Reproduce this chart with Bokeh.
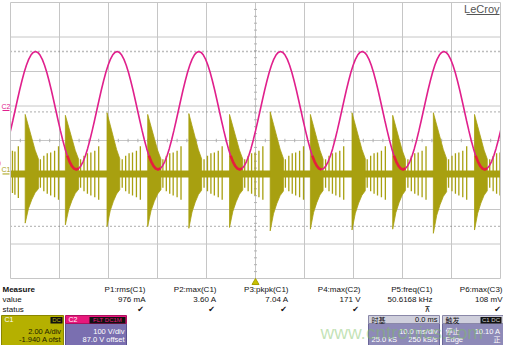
import numpy as np
from bokeh.plotting import figure
from bokeh.models import Range1d
from bokeh.core.properties import value
from bokeh.embed import file_html
from bokeh.resources import INLINE

# ---------------- data ----------------
grid_x_ms = [0, 10, 20, 30, 40, 50, 60, 70, 80, 90, 100]
grid_y_div = [-4, -3, -2, -1, 0, 1, 2, 3, 4]
minor_per_div = 5

c1_scale_A = 2.00
c1_offset_A = -1.940
c2_scale_V = 100.0
c2_offset_V = 87.0

# C2 (mains voltage): one cycle sampled every 10 degrees from the rising zero crossing
c2_cycle_V = [0.0, 29.7, 58.5, 85.5, 109.9, 131.0, 148.1, 160.7, 168.4, 171.0,
              168.4, 160.7, 148.1, 131.0, 109.9, 85.5, 58.5, 29.7, 0.0, -29.7,
              -58.5, -85.5, -109.9, -131.0, -148.1, -160.7, -168.4, -171.0, -168.4,
              -160.7, -148.1, -131.0, -109.9, -85.5, -58.5, -29.7]
c2_period_ms = 16.67
c2_first_zero_ms = 0.93

# C1 (current): switching bursts
burst_start_ms = [3.0, 11.2, 19.7, 28.0, 36.4, 44.7, 53.0, 61.2, 69.7, 78.0, 86.3, 94.7]
burst_length_ms = [2.7, 2.7, 2.6, 2.7, 2.6, 2.7, 2.7, 2.6, 2.7, 2.6, 2.7, 2.6]
burst_high_A = [3.45, 3.40, 3.55, 3.45, 3.50, 3.45, 3.60, 3.45, 3.55, 3.40, 3.55, 3.45]
burst_low_A = [-2.85, -2.95, -3.05, -3.05, -3.15, -3.10, -3.30, -3.20, -3.25, -3.20, -3.44, -3.25]
env_t_frac = [0.0, 0.25, 0.5, 0.75, 1.0]
env_high_frac = [1.0, 0.80, 0.60, 0.40, 0.25]
env_low_frac = [1.0, 0.70, 0.52, 0.38, 0.30]

spike_offset_ms = [3.1, 3.8, 4.5, 5.2, 6.0, 6.8]
spike_high_A = [0.85, 1.05, 1.20, 1.25, 1.35, 1.60]
spike_low_A = [-0.80, -1.00, -1.15, -1.25, -1.35, -1.50]
lead_spike_ms = [0.4, 0.9, 1.6]
lead_spike_high_A = [1.35, 1.30, 1.60]
lead_spike_low_A = [-1.10, -1.20, -1.40]
band_A = 0.2

level_c2_V = [171.0]
level_c1_A = [3.60, -3.04]
trigger_ms = 50.0

meas_names = ["P1:rms(C1)", "P2:max(C1)", "P3:pkpk(C1)", "P4:max(C2)", "P5:freq(C1)", "P6:max(C3)"]
meas_values = ["976 mA", "3.60 A", "7.04 A", "171 V", "50.6168 kHz", "108 mV"]
meas_status = ["\u2714", "\u2714", "\u2714", "\u2714", "\u22bc", "\u2714"]

# ---------------- helpers ----------------
def c1_div(a):
    return (a + c1_offset_A) / c1_scale_A

def c2_div(v):
    return (v + c2_offset_V) / c2_scale_V

def X(px):  # page pixel -> ms
    return (px - 18) / 4.9

def Y(py):  # page pixel -> div
    return (148 - py) / 34.5

OLIVE = "#a8a010"
MAGENTA = "#e0208c"
GRID = "#c6c6c6"
SANS = "Liberation Sans"
CJK = "Noto Sans CJK SC"

p = figure(width=503, height=345, output_backend="svg", toolbar_location=None,
           x_range=Range1d(X(8), X(511)), y_range=Range1d(Y(353), Y(8)),
           x_axis_location=None, y_axis_location=None, title=None, min_border=0)
p.xgrid.visible = False
p.ygrid.visible = False
p.outline_line_color = None
p.background_fill_color = "white"
p.border_fill_color = "white"

# inner grid
xmin, xmax = grid_x_ms[0], grid_x_ms[-1]
ymin, ymax = grid_y_div[0], grid_y_div[-1]
inner_x = grid_x_ms[1:-1]
inner_y = grid_y_div[1:-1]
p.segment(x0=inner_x, x1=inner_x, y0=[ymin] * len(inner_x), y1=[ymax] * len(inner_x),
          line_color=GRID, line_width=1)
p.segment(x0=[xmin] * len(inner_y), x1=[xmax] * len(inner_y), y0=inner_y, y1=inner_y,
          line_color=GRID, line_width=1)

# minor ticks on centre cross
dx = (grid_x_ms[1] - grid_x_ms[0]) / minor_per_div
tx = [xmin + i * dx for i in range(int(round((xmax - xmin) / dx)) + 1)]
p.segment(x0=tx, x1=tx, y0=[-0.05] * len(tx), y1=[0.05] * len(tx), line_color="#b0b0b0", line_width=1)
dy = 1.0 / minor_per_div
ty = [ymin + i * dy for i in range(int(round((ymax - ymin) / dy)) + 1)]
xc = (xmin + xmax) / 2
p.segment(x0=[xc - 0.3] * len(ty), x1=[xc + 0.3] * len(ty), y0=ty, y1=ty, line_color="#b0b0b0", line_width=1)

# dotted level lines
levels = [c2_div(v) for v in level_c2_V] + [c1_div(a) for a in level_c1_A]
p.segment(x0=[xmin] * len(levels), x1=[xmax] * len(levels), y0=levels, y1=levels,
          line_color="#7a7a7a", line_width=1.4, line_dash="1 3")

# C1 trace: baseline band
p.quad(left=[xmin], right=[xmax], bottom=[c1_div(-band_A)], top=[c1_div(band_A)],
       fill_color=OLIVE, line_color=None)

# C1 bursts
bx, by = [], []
for s, L, hi, lo in zip(burst_start_ms, burst_length_ms, burst_high_A, burst_low_A):
    xs_top = [s + f * L for f in env_t_frac]
    ys_top = [c1_div(hi * f) for f in env_high_frac]
    ys_bot = [c1_div(lo * f) for f in env_low_frac]
    bx.append(xs_top + xs_top[::-1])
    by.append(ys_top + ys_bot[::-1])
p.patches(xs=bx, ys=by, fill_color=OLIVE, line_color=OLIVE, line_width=0.8)

# C1 spikes
st, sh, sl = list(lead_spike_ms), list(lead_spike_high_A), list(lead_spike_low_A)
for s in burst_start_ms:
    for o, h, l in zip(spike_offset_ms, spike_high_A, spike_low_A):
        st.append(s + o)
        sh.append(h)
        sl.append(l)
p.segment(x0=st, x1=st, y0=[c1_div(v) for v in sl], y1=[c1_div(v) for v in sh],
          line_color=OLIVE, line_width=1.3)

# C2 trace
c2_t, c2_v = [], []
n = len(c2_cycle_V)
for cyc in range(-1, 7):
    for k, v in enumerate(c2_cycle_V):
        c2_t.append(c2_first_zero_ms + (cyc + k / n) * c2_period_ms)
        c2_v.append(v)
c2_y = [c2_div(v) for v in c2_v]
p.line(c2_t, c2_y, line_color=MAGENTA, line_width=1.6)
red_y = []
for t, v in zip(c2_t, c2_v):
    inb = any(s <= t <= s + L for s, L in zip(burst_start_ms, burst_length_ms))
    red_y.append(c2_div(v) if (inb and v < 0) else np.nan)
p.line(c2_t, red_y, line_color="#e6203c", line_width=2.6)

# mask traces outside the graticule
p.quad(left=[X(8), xmax], right=[xmin, X(511)], bottom=[Y(353)] * 2, top=[Y(8)] * 2,
       fill_color="white", line_color=None)

# graticule border
p.segment(x0=[xmin, xmax, xmin, xmin], x1=[xmin, xmax, xmax, xmax],
          y0=[ymin, ymin, ymin, ymax], y1=[ymax, ymax, ymin, ymax],
          line_color=GRID, line_width=1)


def txt(px, py, s, size="8px", color="#111111", align="left", font=SANS, style="normal", alpha=1.0):
    p.text(x=[X(px)], y=[Y(py)], text=[s], text_font=value(font), text_font_size=size,
           text_color=color, text_align=align, text_baseline="middle",
           text_font_style=style, text_alpha=alpha)


def box(l, r, t, b, fill, line=None):
    p.quad(left=[X(l)], right=[X(r)], top=[Y(t)], bottom=[Y(b)], fill_color=fill,
           line_color=line, line_width=1)

# channel markers
txt(9, 114, "C2", size="7px", color=MAGENTA)
p.segment(x0=[X(10)], x1=[X(17)], y0=[c2_div(0)], y1=[c2_div(0)], line_color=MAGENTA, line_width=1)
txt(9, 177, "C1", size="7px", color=OLIVE)
p.segment(x0=[X(10)], x1=[X(17)], y0=[c1_div(0)], y1=[c1_div(0)], line_color=OLIVE, line_width=1)

# trigger position marker
p.scatter(x=[trigger_ms], y=[Y(290)], marker="triangle", size=7, fill_color="#c8c000", line_color="#a8a000")

# LeCroy logo
txt(507, 16, "LeCroy", size="11px", color="#555555", align="right")
p.segment(x0=[X(474)], x1=[X(507)], y0=[Y(22)], y1=[Y(22)], line_color="#555555", line_width=1)

# measurement table
txt(10, 297, "Measure", style="bold")
txt(10, 307, "value")
txt(10, 316.5, "status")
col_right = [153, 224, 296, 368, 440, 510]
for r, nm, vl, stt in zip(col_right, meas_names, meas_values, meas_status):
    txt(r, 297, nm, align="right")
    txt(r, 307, vl, align="right")
    txt(r - 5, 316.5, stt, align="center", font="DejaVu Sans", size="8px")

BT, BH, BB = 323, 331, 353  # box top, header bottom, box bottom
L1, L2 = 338.5, 346.5       # body text rows

# C1 box
box(9, 71, BT, BB, "#b5b000", "#8a8600")
txt(12, 327, "C1", size="7px", color="white")
box(58, 70, BT + 1.5, BH, "#111111")
txt(64, 327.2, "DC", size="6px", color="#b5b000", align="center")
txt(69, L1, "2.00 A/div", size="7.5px", color="#222200", align="right")
txt(69, L2, "-1.940 A ofst", size="7.5px", color="#222200", align="right")

# C2 box
box(73, 134, BH, BB, "#7a6fb0", "#5a5090")
box(73, 134, BT, BH, "#e8187c", "#b01060")
txt(76, 327, "C2", size="7px", color="white")
box(97, 133, BT + 1.5, BH, "#111111")
txt(115, 327.2, "FLT DC1M", size="6px", color="#e8187c", align="center")
txt(132, L1, "100 V/div", size="7.5px", color="white", align="right")
txt(132, L2, "87.0 V offset", size="7.5px", color="white", align="right")

# timebase box
box(376, 447, BH, BB, "#8e8ab8", "#6a6698")
box(376, 447, BT, BH, "#cfcfdc", "#8a88a8")
txt(379, 327, "时基", size="7px", color="#111111", font=CJK)
txt(445, 327, "0.0 ms", size="7.5px", color="#111111", align="right")
txt(445, L1, "10.0 ms/div", size="7.5px", color="white", align="right")
txt(379, L2, "25.0 kS", size="7.5px", color="white")
txt(445, L2, "250 kS/s", size="7.5px", color="white", align="right")

# trigger box
box(450, 516, BH, BB, "#8e8ab8", "#6a6698")
box(450, 516, BT, BH, "#cfcfdc", "#8a88a8")
txt(453, 327, "触发", size="7px", color="#111111", font=CJK)
box(488, 509, BT + 1.5, BH, "#111111")
txt(498.5, 327.2, "C1 DC", size="6px", color="#d0d0d0", align="center")
txt(453, L1, "停止", size="7px", color="white", font=CJK)
txt(508, L1, "10.10 A", size="7.5px", color="white", align="right")
txt(453, L2, "Edge", size="7.5px", color="white")
txt(508, L2, "正", size="7px", color="white", align="right", font=CJK)

# watermark
txt(328, 340, "www.cntronics.com", size="19px", color="#7cc060", alpha=0.45)

open("out.html", "w").write(file_html(p, INLINE))
